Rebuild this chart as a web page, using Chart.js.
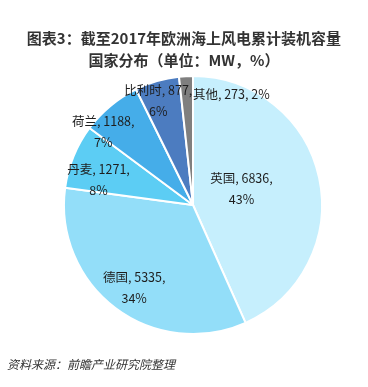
<!DOCTYPE html>
<html>
<head>
<meta charset="utf-8">
<script src="https://cdn.jsdelivr.net/npm/chart.js@4"></script>
<style>
  html, body { margin: 0; padding: 0; background: #fff; }
  #wrap { position: relative; width: 368px; height: 387px; overflow: hidden; }
  #titulo {
    position: absolute; left: 0; top: 27px; width: 368px; text-align: center;
    font: bold 15px "Noto Sans CJK SC", sans-serif; color: #333; line-height: 22px;
  }
  #fuente {
    position: absolute; left: 7px; top: 355px;
    font: italic 12px "Noto Sans CJK SC", sans-serif; color: #333;
  }
  canvas { position: absolute; left: 0; top: 0; }
</style>
</head>
<body>
<div id="wrap">
  <canvas id="grafica" width="368" height="387"></canvas>
  <div id="titulo">图表3：截至2017年欧洲海上风电累计装机容量<br>国家分布（单位：MW，%）</div>
  <div id="fuente">资料来源：前瞻产业研究院整理</div>
</div>
<script>
  // Datos (MW y %)
  const paises = ['英国', '德国', '丹麦', '荷兰', '比利时', '其他'];
  const capacidad = [6836, 5335, 1271, 1188, 877, 273];
  const porcentajes = ['43%', '34%', '8%', '7%', '6%', '2%'];
  const colores = ['#c6effd', '#93def9', '#5ccdf4', '#45ade9', '#4c7cc0', '#7f7f7f'];

  // Etiquetas dentro/cerca de cada porción: factor de radio desde el centro
  const etiquetasPlugin = {
    id: 'etiquetas',
    afterDatasetsDraw(chart, args, opts) {
      const ctx = chart.ctx;
      const meta = chart.getDatasetMeta(0);
      ctx.save();
      ctx.font = '12.5px "Noto Sans CJK SC", sans-serif';
      ctx.fillStyle = '#1e1e1e';
      ctx.textBaseline = 'middle';
      meta.data.forEach((arc, i) => {
        const p = arc.getProps(['x', 'y', 'startAngle', 'endAngle', 'outerRadius'], true);
        const medio = (p.startAngle + p.endAngle) / 2;
        const f = opts.factores[i];
        const x = p.x + Math.cos(medio) * p.outerRadius * f + (opts.dx[i] || 0);
        const y = p.y + Math.sin(medio) * p.outerRadius * f + (opts.dy[i] || 0);
        if (opts.unaLinea[i]) {
          ctx.textAlign = 'left';
          ctx.fillText(`${paises[i]}, ${capacidad[i]}, ${porcentajes[i]}`, x, y);
        } else {
          ctx.textAlign = 'center';
          ctx.fillText(`${paises[i]}, ${capacidad[i]},`, x, y - 10.5);
          ctx.fillText(porcentajes[i], x, y + 10.5);
        }
      });
      ctx.restore();
    },
  };

  new Chart(document.getElementById('grafica'), {
    type: 'pie',
    data: {
      labels: paises,
      datasets: [{ data: capacidad, backgroundColor: colores, borderColor: '#ffffff', borderWidth: 2 }],
    },
    options: {
      responsive: false, animation: false,
      layout: { padding: { left: 63, right: 45, top: 75, bottom: 52 } },
      plugins: {
        legend: { display: false },
        tooltip: { enabled: false },
        etiquetas: {
          factores: [0.4, 0.8, 0.74, 0.93, 0.88, 0.87],
          dx: [-2, 3, -6, -13, -3, 6],
          dy: [-6, 0, 11, 19, 5, 1],
          unaLinea: [false, false, false, false, false, true],
        },
      },
    },
    plugins: [etiquetasPlugin],
  });
</script>
</body>
</html>
